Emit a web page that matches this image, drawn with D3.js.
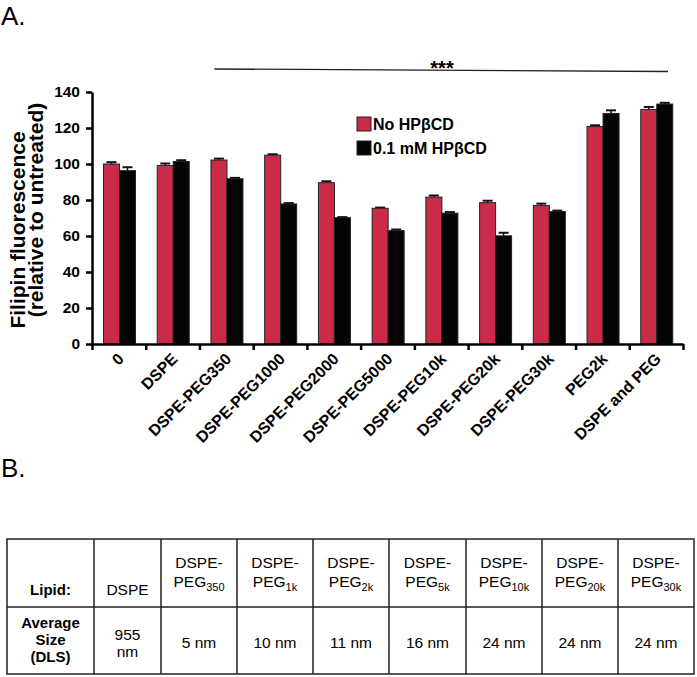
<!DOCTYPE html>
<html>
<head>
<meta charset="utf-8">
<script src="https://cdn.jsdelivr.net/npm/d3@7"></script>
<style>
  body { margin: 0; background: #fff; }
  svg { font-family: "Liberation Sans", Arial, sans-serif; }
</style>
</head>
<body>
<div id="chart"></div>
<script>
// chart data
const categories = ["0", "DSPE", "DSPE-PEG350", "DSPE-PEG1000", "DSPE-PEG2000", "DSPE-PEG5000",
    "DSPE-PEG10k", "DSPE-PEG20k", "DSPE-PEG30k", "PEG2k", "DSPE and PEG"];
const seriesNames = ["No HPβCD", "0.1 mM HPβCD"];
const noHP = [100, 99.2, 102.2, 104.9, 89.6, 75.4, 81.6, 78.5, 77.0, 120.8, 130.3];
const noHPErr = [1.0, 1.1, 0.8, 0.5, 0.8, 0.4, 0.9, 1.1, 1.0, 0.7, 1.4];
const withHP = [96.3, 101.4, 91.8, 77.8, 70.2, 63.0, 72.7, 60.1, 73.6, 128.1, 133.3];
const withHPErr = [1.9, 0.7, 0.5, 0.5, 0.3, 0.6, 0.6, 1.7, 0.5, 1.7, 0.7];
const yTicks = [0, 20, 40, 60, 80, 100, 120, 140];

// table data
const lipidNames = ["DSPE", "PEG350", "PEG1k", "PEG2k", "PEG5k", "PEG10k", "PEG20k", "PEG30k"];
const avgSizes = ["955 nm", "5 nm", "10 nm", "11 nm", "16 nm", "24 nm", "24 nm", "24 nm"];

const colors = ["#c92b48", "#050505"];

const svg = d3.select("#chart").append("svg")
    .attr("width", 697)
    .attr("height", 677);

// panel letters
svg.append("text").attr("x", 1).attr("y", 25)
    .style("font-size", "26px").text("A.");
svg.append("text").attr("x", 1).attr("y", 477)
    .style("font-size", "26px").text("B.");

// ---- panel A ----
const plotL = 92, plotR = 683, plotT = 92, plotB = 344;

const x = d3.scaleBand().domain(categories).range([plotL, plotR]).padding(0);
const xSub = d3.scaleBand().domain([0, 1]).range([11.5, 43.5]);
const y = d3.scaleLinear().domain([0, 140]).range([plotB, plotT]);

const rows = categories.map((c, i) => ({
    cat: c,
    vals: [
        { s: 0, v: noHP[i], e: noHPErr[i] },
        { s: 1, v: withHP[i], e: withHPErr[i] }
    ]
}));

const groups = svg.append("g").selectAll("g")
    .data(rows)
    .enter().append("g")
    .attr("transform", d => `translate(${x(d.cat)},0)`);

const bars = groups.selectAll("g")
    .data(d => d.vals)
    .enter().append("g");

// error bars (upper only)
bars.append("line")
    .attr("x1", d => xSub(d.s) + xSub.bandwidth() / 2)
    .attr("x2", d => xSub(d.s) + xSub.bandwidth() / 2)
    .attr("y1", d => y(d.v))
    .attr("y2", d => y(d.v + d.e))
    .attr("stroke", "#111").attr("stroke-width", 1.5);
bars.append("line")
    .attr("x1", d => xSub(d.s) + 3)
    .attr("x2", d => xSub(d.s) + xSub.bandwidth() - 3)
    .attr("y1", d => y(d.v + d.e))
    .attr("y2", d => y(d.v + d.e))
    .attr("stroke", "#111").attr("stroke-width", 2);

bars.append("rect")
    .attr("x", d => xSub(d.s))
    .attr("y", d => y(d.v))
    .attr("width", xSub.bandwidth())
    .attr("height", d => y(0) - y(d.v))
    .attr("fill", d => colors[d.s])
    .attr("stroke", "#222")
    .attr("stroke-width", 1);

// y axis
const yAxis = svg.append("g")
    .attr("transform", `translate(${plotL},0)`)
    .call(d3.axisLeft(y).tickValues(yTicks).tickSize(6).tickSizeOuter(0).tickPadding(6));
yAxis.select(".domain").attr("stroke-width", 2.5).attr("stroke", "#000");
yAxis.selectAll(".tick line").attr("stroke-width", 2.5);
yAxis.selectAll(".tick text")
    .style("font-size", "15.5px").style("font-weight", "bold")
    .attr("font-family", null).attr("fill", "#000");

// x axis: ticks at group boundaries
const xb = d3.scaleLinear().domain([0, categories.length]).range([plotL, plotR]);
const xAxis = svg.append("g")
    .attr("transform", `translate(0,${plotB})`)
    .call(d3.axisBottom(xb).tickValues(d3.range(categories.length + 1))
        .tickFormat("").tickSize(6).tickSizeOuter(0));
xAxis.select(".domain").attr("stroke-width", 2.5).attr("stroke", "#000");
xAxis.selectAll(".tick line").attr("stroke-width", 2.5);

svg.append("g").selectAll("text")
    .data(categories)
    .enter().append("text")
    .attr("transform", d => `translate(${x(d) + x.bandwidth() / 2 + 6},${plotB + 16}) rotate(-45)`)
    .attr("text-anchor", "end")
    .style("font-size", "16px").style("font-weight", "bold")
    .text(d => d);

// y axis title
svg.append("text")
    .attr("transform", "translate(25,230) rotate(-90)")
    .attr("text-anchor", "middle")
    .style("font-size", "21px").style("font-weight", "bold")
    .text("Filipin fluorescence");
svg.append("text")
    .attr("transform", "translate(43,210) rotate(-90)")
    .attr("text-anchor", "middle")
    .style("font-size", "21px").style("font-weight", "bold")
    .text("(relative to untreated)");

// significance bar
const sigX1 = x(categories[2]) + 15;
const sigX2 = x(categories[categories.length - 1]) + x.bandwidth() - 15;
svg.append("line")
    .attr("x1", sigX1).attr("x2", sigX2)
    .attr("y1", 69).attr("y2", 71.5)
    .attr("stroke", "#222").attr("stroke-width", 1.3);
svg.append("text")
    .attr("x", 442).attr("y", 75)
    .attr("text-anchor", "middle")
    .style("font-size", "20px").style("font-weight", "bold")
    .text("***");

// legend
const legend = svg.append("g").attr("transform", "translate(357,117)");
seriesNames.forEach((name, i) => {
    legend.append("rect")
        .attr("x", 0).attr("y", i * 24)
        .attr("width", 14).attr("height", 14)
        .attr("fill", colors[i]).attr("stroke", "#222");
    legend.append("text")
        .attr("x", 16).attr("y", i * 24 + 13)
        .style("font-size", "16px").style("font-weight", "bold")
        .text(name);
});

// ---- panel B: table ----
const colX = [7, 94, 161, 237, 313, 389, 466, 542, 618, 694];
const rowY = [539, 607, 674];
const tbl = svg.append("g");

tbl.append("rect")
    .attr("x", colX[0]).attr("y", rowY[0])
    .attr("width", colX[colX.length - 1] - colX[0])
    .attr("height", rowY[2] - rowY[0])
    .attr("fill", "none").attr("stroke", "#222").attr("stroke-width", 1.5);
tbl.append("line")
    .attr("x1", colX[0]).attr("x2", colX[colX.length - 1])
    .attr("y1", rowY[1]).attr("y2", rowY[1])
    .attr("stroke", "#222").attr("stroke-width", 1.5);
tbl.selectAll(".col")
    .data(colX.slice(1, -1))
    .enter().append("line")
    .attr("x1", d => d).attr("x2", d => d)
    .attr("y1", rowY[0]).attr("y2", rowY[2])
    .attr("stroke", "#222").attr("stroke-width", 1.5);

const cx = i => (colX[i] + colX[i + 1]) / 2;

tbl.append("text").attr("x", cx(0)).attr("y", 595)
    .attr("text-anchor", "middle")
    .style("font-size", "15px").style("font-weight", "bold")
    .text("Lipid:");
["Average", "Size", "(DLS)"].forEach((t, i) => {
    tbl.append("text").attr("x", cx(0)).attr("y", 628 + i * 17)
        .attr("text-anchor", "middle")
        .style("font-size", "15px").style("font-weight", "bold")
        .text(t);
});

lipidNames.forEach((name, i) => {
    const c = cx(i + 1);
    if (name === "DSPE") {
        tbl.append("text").attr("x", c).attr("y", 595)
            .attr("text-anchor", "middle").style("font-size", "15.5px").text(name);
    } else {
        tbl.append("text").attr("x", c).attr("y", 568)
            .attr("text-anchor", "middle").style("font-size", "15.5px").text("DSPE-");
        const t = tbl.append("text").attr("x", c).attr("y", 587)
            .attr("text-anchor", "middle").style("font-size", "15.5px");
        t.append("tspan").text("PEG");
        t.append("tspan").attr("dy", 4).style("font-size", "11px").text(name.slice(3));
    }
});

avgSizes.forEach((s, i) => {
    const c = cx(i + 1);
    if (i === 0) {
        const parts = s.split(" ");
        tbl.append("text").attr("x", c).attr("y", 640)
            .attr("text-anchor", "middle").style("font-size", "15.5px").text(parts[0]);
        tbl.append("text").attr("x", c).attr("y", 657)
            .attr("text-anchor", "middle").style("font-size", "15.5px").text(parts[1]);
    } else {
        tbl.append("text").attr("x", c).attr("y", 648)
            .attr("text-anchor", "middle").style("font-size", "15.5px").text(s);
    }
});
</script>
</body>
</html>
